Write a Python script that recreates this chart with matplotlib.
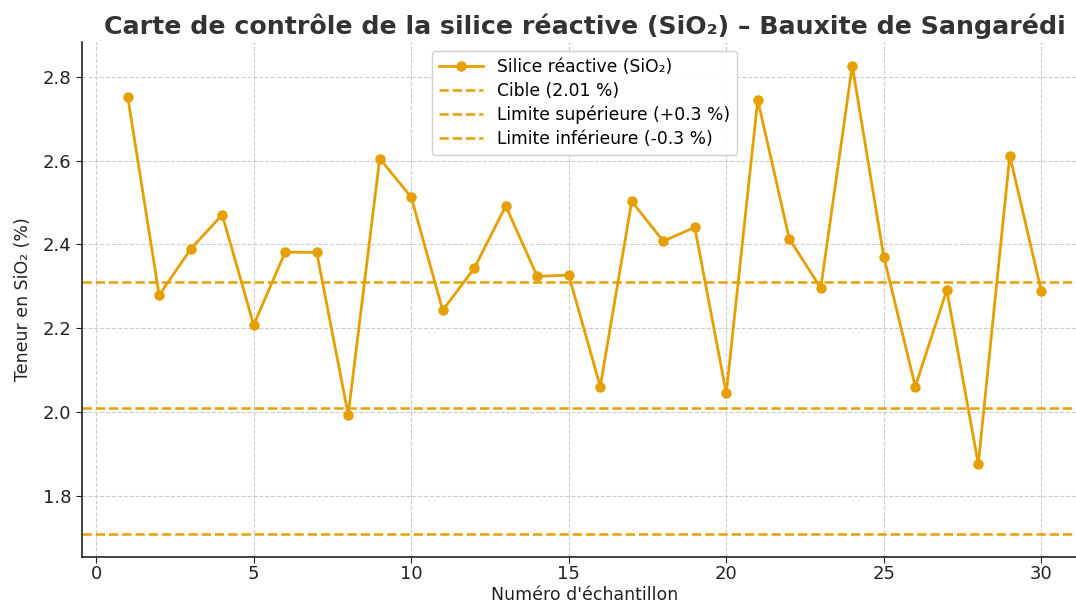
import numpy as np
import matplotlib.pyplot as plt

# Sample numbers and reactive silica values (%)
samples = list(range(1, 31))
sio2 = [2.753, 2.279, 2.389, 2.471, 2.208, 2.382, 2.381, 1.994, 2.605, 2.513,
        2.243, 2.343, 2.492, 2.324, 2.327, 2.061, 2.503, 2.408, 2.441, 2.045,
        2.745, 2.414, 2.296, 2.827, 2.371, 2.061, 2.291, 1.876, 2.612, 2.289]

target = 2.01
tolerance = 0.3
color = '#E69F00'

fig = plt.figure(figsize=(10.76, 6.05), dpi=100)
ax = fig.add_axes([0.0762, 0.0793, 0.934, 0.851])

ax.plot(samples, sio2, marker='o', color=color, linewidth=2, markersize=6.5,
        label='Silice réactive (SiO₂)')
ax.axhline(target, color=color, linestyle='--', linewidth=1.8, label=f'Cible ({target:.2f} %)')
ax.axhline(target + tolerance, color=color, linestyle='--', linewidth=1.8,
           label='Limite supérieure (+0.3 %)')
ax.axhline(target - tolerance, color=color, linestyle='--', linewidth=1.8,
           label='Limite inférieure (-0.3 %)')

ax.set_title('Carte de contrôle de la silice réactive (SiO₂) – Bauxite de Sangarédi',
             fontsize=18.2, fontweight='bold', color='#333333', pad=6)
ax.set_xlabel("Numéro d'échantillon", fontsize=12.5, color='#222222', labelpad=2)
ax.set_ylabel('Teneur en SiO₂ (%)', fontsize=12.5, color='#222222', labelpad=8)

ax.set_xticks([0, 5, 10, 15, 20, 25, 30])
ax.set_yticks([1.8, 2.0, 2.2, 2.4, 2.6, 2.8])
ax.tick_params(labelsize=13, colors='#222222', direction='out', length=4)
ax.tick_params(axis='x', pad=2)
ax.grid(True, linestyle='--', color='#cccccc', linewidth=0.8)
ax.set_axisbelow(True)

for side in ('top', 'right'):
    ax.spines[side].set_visible(False)
for side in ('left', 'bottom'):
    ax.spines[side].set_linewidth(1.2)
    ax.spines[side].set_color('#222222')

ax.legend(loc='upper center', fontsize=12.3, framealpha=0.9, edgecolor='#cccccc',
          handlelength=2.6, labelspacing=0.35, borderpad=0.4)

fig.savefig('out.png', dpi=100)
